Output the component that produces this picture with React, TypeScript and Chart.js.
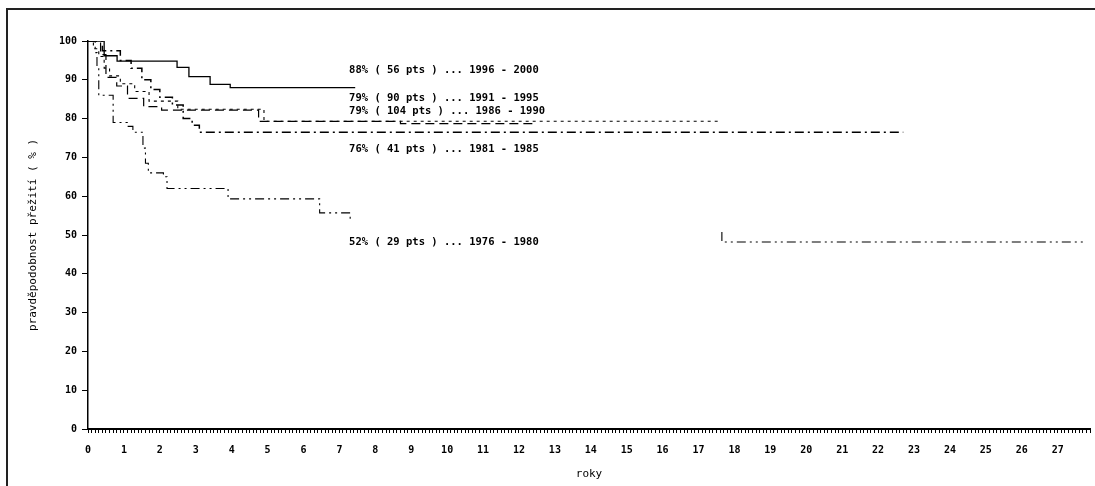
import React, { useEffect, useRef } from "react";
import { Chart, registerables } from "chart.js";

Chart.register(...registerables);

// Kaplan-Meier survival curves (years vs. % survival)
const t1996 = [0, 0.45, 0.81, 2.48, 2.81, 3.4, 3.96, 7.44];
const s1996 = [100, 96.2, 94.8, 93.2, 90.8, 88.8, 88.0, 88.0];

const t1991 = [0, 0.35, 0.5, 0.8, 1.1, 1.55, 2.05, 4.75, 8.7, 12.4];
const s1991 = [100, 96.5, 90.6, 88.4, 85.2, 83.1, 82.2, 79.3, 78.7, 78.7];

const t1986 = [0, 0.15, 0.3, 0.45, 0.6, 0.9, 1.3, 1.7, 2.5, 4.9, 17.6];
const s1986 = [100, 98, 96, 93, 91, 89, 87, 84.5, 82.4, 79.3, 79.3];

const t1981 = [0, 0.4, 0.9, 1.2, 1.5, 1.75, 2.0, 2.35, 2.65, 2.9, 3.1, 22.7];
const s1981 = [100, 97.5, 95, 93, 90, 87.5, 85.5, 83.5, 80, 78.3, 76.5, 76.5];

const t1976 = [0, 0.2, 0.25, 0.3, 0.7, 1.1, 1.25, 1.53, 1.6, 1.68, 2.1, 2.2, 3.9, 6.45, 7.3, 7.35, 12, 17.65, 17.65, 27.75];
const s1976 = [100, 97, 93, 86, 79, 78, 76.5, 72.4, 68.5, 66, 65, 62, 59.3, 55.7, 54, 54, null, 50.8, 48.2, 48.2];

const annotTexts = [
  "88% ( 56 pts ) ... 1996 - 2000",
  "79% ( 90 pts ) ... 1991 - 1995",
  "79% ( 104 pts ) ... 1986 - 1990",
  "76% ( 41 pts ) ... 1981 - 1985",
  "52% ( 29 pts ) ... 1976 - 1980",
];
const annotX = [7.27, 7.27, 7.27, 7.27, 7.27];
const annotY = [92.5, 85.3, 82.0, 72.2, 48.2];

const yTicks = [0, 10, 20, 30, 40, 50, 60, 70, 80, 90, 100];
const xMax = 27.9;

const pts = (t: number[], s: (number | null)[]) => t.map((x, i) => ({ x, y: s[i] }));

const annotPlugin = {
  id: "annot",
  afterDatasetsDraw(chart: any) {
    const { ctx, scales } = chart;
    ctx.save();
    ctx.fillStyle = "#000";
    ctx.font = "bold 10.5px 'DejaVu Sans Mono'";
    ctx.textAlign = "left";
    ctx.textBaseline = "middle";
    annotTexts.forEach((txt, i) => {
      ctx.fillText(txt, scales.x.getPixelForValue(annotX[i]), scales.y.getPixelForValue(annotY[i]));
    });
    ctx.restore();
  },
};

export default function App() {
  const ref = useRef<HTMLCanvasElement | null>(null);
  useEffect(() => {
    if (!ref.current) return;
    const ds = (t: number[], s: (number | null)[], dash: number[], w: number) => ({
      data: pts(t, s),
      borderColor: "#000",
      borderWidth: w,
      borderDash: dash,
      stepped: true as const,
      pointRadius: 0,
      fill: false,
      spanGaps: false,
    });
    const chart = new Chart(ref.current, {
      type: "line",
      data: {
        datasets: [
          ds(t1996, s1996, [], 1.3),
          ds(t1991, s1991, [9, 5], 1.2),
          ds(t1986, s1986, [3, 4], 1.1),
          ds(t1981, s1981, [9, 4, 2, 4], 1.5),
          ds(t1976, s1976, [9, 4, 2, 4, 2, 4], 1.1),
        ],
      },
      options: {
        animation: false,
        responsive: false,
        devicePixelRatio: 1,
        layout: { padding: { left: 0, top: 41, right: 5, bottom: 0 } },
        plugins: { legend: { display: false }, tooltip: { enabled: false } },
        scales: {
          x: {
            type: "linear",
            min: 0,
            max: xMax,
            afterFit: (s: any) => { s.height = 57; s.paddingLeft = 0; s.paddingRight = 0; },
            border: { color: "#000", width: 2 },
            grid: { drawOnChartArea: false, drawTicks: true, tickLength: 4, color: "#000", lineWidth: 1 },
            ticks: {
              stepSize: 0.1,
              autoSkip: false,
              maxTicksLimit: 1000,
              maxRotation: 0,
              padding: 11,
              color: "#000",
              font: { family: "'DejaVu Sans Mono'", size: 10, weight: "bold" },
              callback: (v: any) => {
                const n = Number(v);
                return Math.abs(n - Math.round(n)) < 1e-6 ? String(Math.round(n)) : "";
              },
            },
            title: {
              display: true,
              text: "roky",
              color: "#000",
              font: { family: "'DejaVu Sans Mono'", size: 11 },
              padding: { top: 0, bottom: 5 },
            },
          },
          y: {
            type: "linear",
            min: 0,
            max: 100,
            afterFit: (s: any) => { s.width = 88; },
            afterBuildTicks: (s: any) => { s.ticks = yTicks.map((v) => ({ value: v })); },
            border: { color: "#000", width: 1.5 },
            grid: { drawOnChartArea: false, drawTicks: true, tickLength: 6, color: "#000" },
            ticks: {
              padding: 5,
              color: "#000",
              font: { family: "'DejaVu Sans Mono'", size: 10, weight: "bold" },
            },
            title: {
              display: true,
              text: "pravděpodobnost přežití ( % )",
              color: "#000",
              font: { family: "'DejaVu Sans Mono'", size: 11 },
              padding: { top: 27, bottom: 0 },
            },
          },
        },
      },
      plugins: [annotPlugin],
    } as any);
    return () => chart.destroy();
  }, []);

  return (
    <div style={{ position: "absolute", left: 0, top: 0, width: 1095, height: 486, background: "#fff", overflow: "hidden" }}>
      <div style={{ position: "absolute", left: 6, top: 8, right: 0, bottom: 0, borderTop: "2px solid #222", borderLeft: "2px solid #222" }} />
      <canvas ref={ref} width={1095} height={486} style={{ position: "absolute", left: 0, top: 0, width: 1095, height: 486 }} />
    </div>
  );
}
